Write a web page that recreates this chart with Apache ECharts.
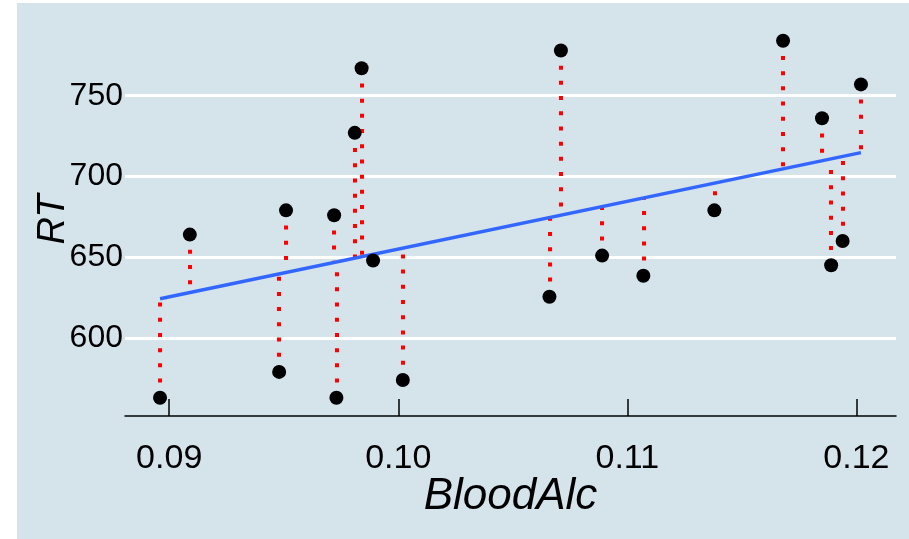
<!DOCTYPE html>
<html>
<head>
<meta charset="utf-8">
<script src="https://cdn.jsdelivr.net/npm/echarts@6/dist/echarts.min.js"></script>
<style>
html,body{margin:0;padding:0;background:#fff}
#main{width:909px;height:539px}
</style>
</head>
<body>
<div id="main"></div>
<script>
// blood alcohol vs reaction time
let bloodAlc=[0.0896,0.0909,0.0948,0.0951,0.0972,0.0973,0.0981,0.0984,0.0989,0.1002,
              0.1066,0.1071,0.1089,0.1107,0.1138,0.1168,0.1185,0.1189,0.1194,0.1202]
let rt=[563,664,579,679,676,563,727,767,648,574,
        625.5,778,651,638.5,679,784,736,645,660,757]
let fitIntercept=359.2
let fitSlope=2958
let xTicks=[0.09,0.10,0.11,0.12]
let yTicks=[600,650,700,750]

let points=[]
let segs=[]
for(let i=0;i<bloodAlc.length;i++){
    let x=bloodAlc[i]
    points.push([x,rt[i]])
    segs.push({coords:[[x,rt[i]],[x,fitIntercept+fitSlope*x]]})
}
let xmin=Math.min(...bloodAlc),xmax=Math.max(...bloodAlc)
let fitLine=[[xmin,fitIntercept+fitSlope*xmin],[xmax,fitIntercept+fitSlope*xmax]]

let myChart=echarts.init(document.getElementById("main"))
let font="Liberation Sans"
let option={
    backgroundColor:"#fff",
    animation:false,
    graphic:[{
        type:"rect",z:-10,silent:true,
        shape:{x:17,y:3,width:892,height:536},
        style:{fill:"#d5e4eb"}
    }],
    grid:{left:125,right:13,top:23,bottom:123},
    xAxis:{
        type:"value",
        min:0.08807,max:0.12173,
        name:"BloodAlc",
        nameLocation:"middle",
        nameGap:59,
        nameMoveOverlap:false,
        nameTextStyle:{fontFamily:font,fontSize:44,fontStyle:"italic",color:"#000"},
        axisLine:{show:true,onZero:false,lineStyle:{color:"#000",width:1.5}},
        axisTick:{show:true,inside:true,length:17,customValues:xTicks,lineStyle:{color:"#000",width:1.5}},
        axisLabel:{customValues:xTicks,fontFamily:font,fontSize:34,color:"#000",margin:26,
            formatter:v=>v.toFixed(2)},
        splitLine:{show:false}
    },
    yAxis:{
        type:"value",
        min:551.7,max:795,
        name:"RT",
        nameLocation:"middle",
        nameGap:53,
        nameMoveOverlap:false,
        nameTextStyle:{fontFamily:font,fontSize:38,fontStyle:"italic",color:"#000"},
        axisLine:{show:false},
        axisTick:{show:false,customValues:yTicks},
        axisLabel:{customValues:yTicks,fontFamily:font,fontSize:32,color:"#000",margin:2},
        splitLine:{show:true,lineStyle:{color:"#fff",width:3}}
    },
    series:[
        {
            type:"lines",
            coordinateSystem:"cartesian2d",
            data:segs,
            z:2,
            lineStyle:{color:"#ff0000",width:4,type:[4,11.2],cap:"butt",opacity:1}
        },
        {
            type:"line",
            data:fitLine,
            symbol:"none",
            z:3,
            lineStyle:{color:"#3366ff",width:3.5}
        },
        {
            type:"scatter",
            data:points,
            symbol:"circle",
            symbolSize:14,
            z:4,
            itemStyle:{color:"#000",opacity:1}
        }
    ]
}
myChart.setOption(option)
</script>
</body>
</html>
